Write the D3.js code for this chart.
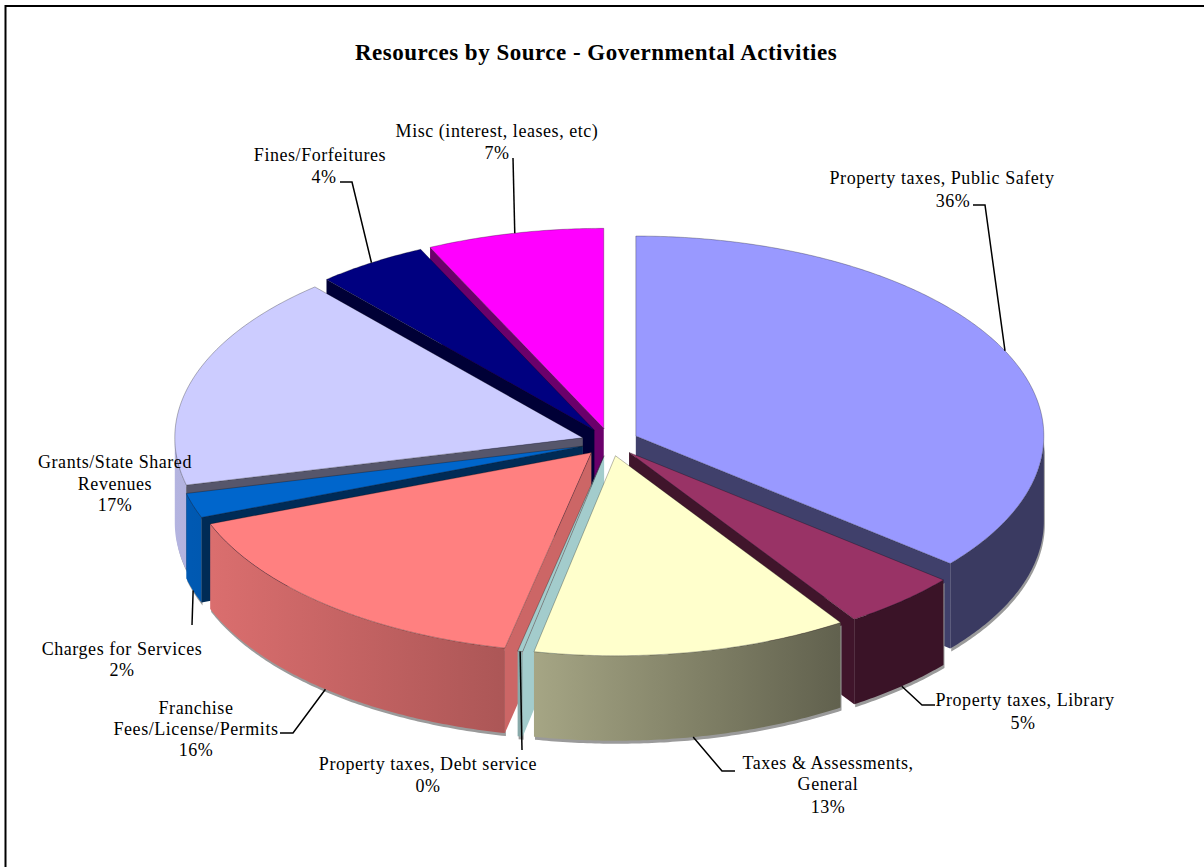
<!DOCTYPE html>
<html>
<head>
<meta charset="utf-8">
<script src="https://cdn.jsdelivr.net/npm/d3@7"></script>
<style>
  html, body { margin: 0; padding: 0; background: #fff; }
  svg { display: block; }
  text { font-family: "Liberation Serif", serif; fill: #000; }
</style>
</head>
<body>
<svg id="chart" width="1204" height="867"></svg>
<script>
// Share of governmental-activity resources by source, in percent.
const sources = [
  "Property taxes, Public Safety", "Property taxes, Library", "Taxes & Assessments, General",
  "Property taxes, Debt service", "Franchise Fees/License/Permits", "Charges for Services",
  "Grants/State Shared Revenues", "Fines/Forfeitures", "Misc (interest, leases, etc)"
];
const shares = [36, 4.7, 12.5, 0.2, 15.8, 2, 17.4, 4.4, 7];
const topColors = ["#9999FF", "#993366", "#FFFFCC", "#A3CCCC", "#FF8080", "#0066CC", "#CCCCFF", "#000080", "#FF00FF"];
const wallColors = ["#9999FF", "#993366", "#FFFFCC", "#CCFFFF", "#FF8080", "#0066CC", "#CCCCFF", "#000080", "#FF00FF"];

// Wrapped name lines for each data label.
const labelLines = [
  ["Property taxes, Public Safety"], ["Property taxes, Library"], ["Taxes & Assessments,", "General"],
  ["Property taxes, Debt service"], ["Franchise", "Fees/License/Permits"], ["Charges for Services"],
  ["Grants/State Shared", "Revenues"], ["Fines/Forfeitures"], ["Misc (interest, leases, etc)"]
];

// Label placement: [centre x, baseline] of each line including the percentage.
const labelPlacement = [
  [[942, 184], [953, 207]],
  [[1025, 706], [1023, 729]],
  [[828, 769], [828, 790], [828, 813]],
  [[428, 770], [428, 792]],
  [[196, 714], [196, 735], [196, 756]],
  [[122, 655], [122, 676]],
  [[115, 468], [115, 490], [115, 511]],
  [[320, 161], [324, 183]],
  [[497, 137], [497, 159]]
];

// Bent part of each leader, running away from the slice.
const leaderBends = [
  [[985, 205], [973, 205]],
  [[922, 705], [935, 705]],
  [[722, 771], [735, 771]],
  [[522, 750]],
  [[293, 733], [280, 733]],
  [[192, 625]],
  null,
  [[352, 182], [340, 182]],
  [[513, 158]]
];
const leaderFromWallBase = [false, true, true, false, true, true, false, false, false];

const centre = { x: 610, y: 442 };
const radiusX = 408, radiusY = 200, wallDepth = 85, explode = 0.07;

const svg = d3.select("#chart");
const defs = svg.append("defs");

// Sheet edges: only the top and left borders fall inside the page
svg.append("path").attr("d", "M1204,6H5.5V867").attr("fill", "none")
  .attr("stroke", "#000").attr("stroke-width", 2);

svg.append("text").attr("x", 596).attr("y", 60).attr("text-anchor", "middle")
  .attr("font-size", 23).attr("font-weight", "bold").attr("letter-spacing", 0.5)
  .text("Resources by Source - Governmental Activities");

const pie = d3.pie().sort(null).value(d => d);
const arcs = pie(shares);

// Plane of the pie projected to the screen: angle runs clockwise from twelve o'clock.
const toScreen = (apex, angle, r = 1, drop = 0) => [
  apex[0] + radiusX * r * Math.sin(angle),
  apex[1] - radiusY * r * Math.cos(angle) + drop
];
const apexOf = a => {
  const mid = (a.startAngle + a.endAngle) / 2;
  return toScreen([centre.x, centre.y], mid, explode);
};
const arcPoints = (apex, from, to, drop = 0) => {
  const steps = Math.max(2, Math.ceil((to - from) / 0.01));
  return d3.range(steps + 1).map(i => toScreen(apex, from + (to - from) * i / steps, 1, drop));
};
const closed = d3.line();
const outline = pts => closed(pts) + "Z";

// Light falls off from left to right along the curved outer wall.
const wallShade = d3.scaleLinear().domain([175, 510, 700, 840, 1045]).range([0.88, 0.67, 0.5, 0.38, 0.38]);
const shaded = (color, k) => {
  const c = d3.rgb(color);
  return d3.rgb(c.r * k, c.g * k, c.b * k).formatHex();
};
wallColors.forEach((color, i) => {
  const grad = defs.append("linearGradient").attr("id", "wall" + i)
    .attr("gradientUnits", "userSpaceOnUse").attr("x1", 175).attr("x2", 1045).attr("y1", 0).attr("y2", 0);
  wallShade.domain().forEach(x => {
    grad.append("stop").attr("offset", (x - 175) / 870).attr("stop-color", shaded(color, wallShade(x)));
  });
});

const half = Math.PI / 2;
const midCos = a => Math.cos((a.startAngle + a.endAngle) / 2);
// Paint from the back of the pie to the front.
const paintOrder = arcs.map((a, i) => ({ a, i, apex: apexOf(a) }))
  .sort((p, q) => midCos(q.a) - midCos(p.a));

const slices = svg.append("g");
paintOrder.forEach(({ a, i, apex }) => {
  const g = slices.append("g");

  // Outer wall, only where the rim faces the viewer
  const from = Math.max(a.startAngle, half), to = Math.min(a.endAngle, 3 * half);
  if (to > from) {
    const wall = outline([...arcPoints(apex, from, to), ...arcPoints(apex, from, to, wallDepth).reverse()]);
    g.append("path").attr("d", wall).attr("fill", "#9a9a9a").attr("transform", "translate(1,3)");
    g.append("path").attr("d", wall).attr("fill", `url(#wall${i})`);
  }

  // Cut faces that turn towards the viewer
  const face = (angle, normalX) => {
    const rim = toScreen(apex, angle);
    const pts = [apex, rim, [rim[0], rim[1] + wallDepth], [apex[0], apex[1] + wallDepth]];
    g.append("path").attr("d", outline(pts)).attr("fill", shaded(wallColors[i], normalX > 0.5 ? 0.8 : 0.42));
  };
  if (Math.sin(a.startAngle) < -1e-6) face(a.startAngle, -Math.cos(a.startAngle));
  if (Math.sin(a.endAngle) > 1e-6) face(a.endAngle, Math.cos(a.endAngle));

  // Top surface
  g.append("path").attr("d", outline([apex, ...arcPoints(apex, a.startAngle, a.endAngle)]))
    .attr("fill", topColors[i]).attr("stroke", "#000").attr("stroke-opacity", 0.35).attr("stroke-width", 0.8);
});

// Data labels and their leaders
const percent = d3.format(".0f");
const labels = svg.append("g");
arcs.forEach((a, i) => {
  const lines = [...labelLines[i], percent(shares[i]) + "%"];
  lines.forEach((line, j) => {
    const [x, y] = labelPlacement[i][j];
    labels.append("text").attr("x", x).attr("y", y).attr("text-anchor", "middle")
      .attr("font-size", 18).attr("letter-spacing", 0.55).text(line);
  });
  if (!leaderBends[i]) return;
  const mid = (a.startAngle + a.endAngle) / 2;
  const start = toScreen(apexOf(a), mid, 1, leaderFromWallBase[i] ? wallDepth : 0);
  labels.append("path").attr("d", d3.line()([start, ...leaderBends[i]]))
    .attr("fill", "none").attr("stroke", "#000").attr("stroke-width", 1.5);
});
</script>
</body>
</html>
